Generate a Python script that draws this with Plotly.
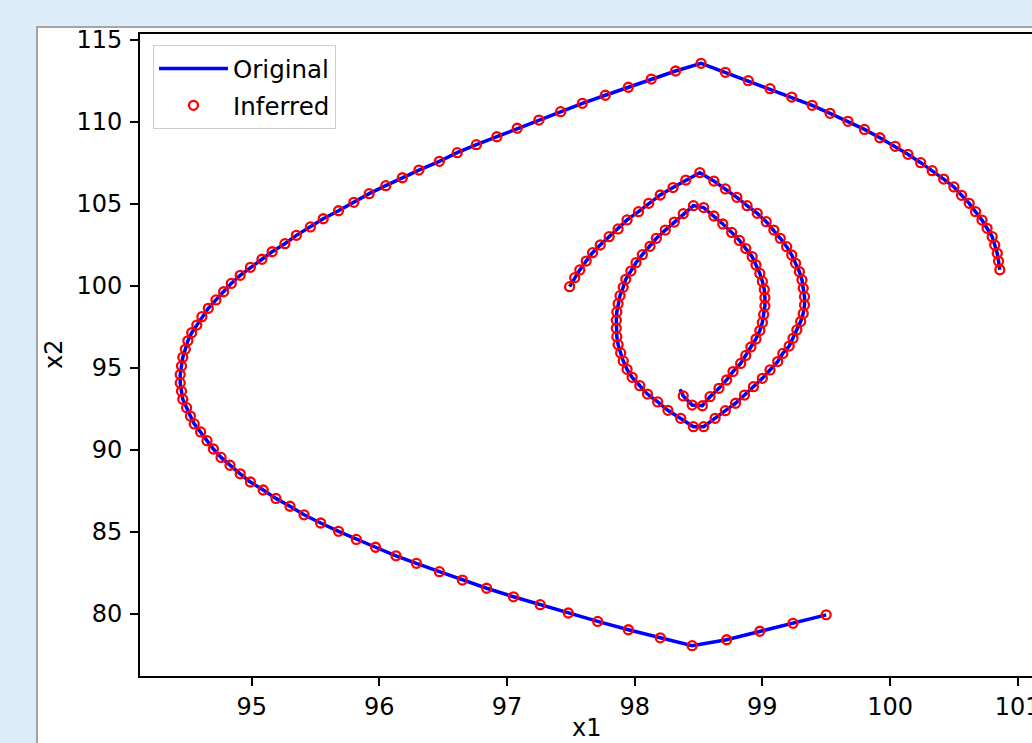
import plotly.graph_objects as go

# ---------------- data ----------------
outer_x1 = [99.50, 99.24, 98.98, 98.72, 98.45, 98.20, 97.95, 97.71, 97.48, 97.26,
            97.05, 96.84, 96.65, 96.47, 96.29, 96.13, 95.97, 95.82, 95.68, 95.54,
            95.41, 95.30, 95.19, 95.09, 94.99, 94.91, 94.83, 94.76, 94.70, 94.65,
            94.60, 94.55, 94.52, 94.49, 94.46, 94.45, 94.44, 94.44, 94.45, 94.46,
            94.48, 94.50, 94.53, 94.57, 94.61, 94.66, 94.72, 94.78, 94.84, 94.91,
            94.99, 95.08, 95.16, 95.26, 95.35, 95.46, 95.56, 95.68, 95.80, 95.92,
            96.05, 96.18, 96.31, 96.47, 96.61, 96.76, 96.92, 97.08, 97.25, 97.42,
            97.59, 97.77, 97.95, 98.13, 98.32, 98.52, 98.71, 98.89, 99.06, 99.23,
            99.39, 99.53, 99.67, 99.80, 99.92, 100.04, 100.14, 100.24, 100.33, 100.42,
            100.50, 100.56, 100.62, 100.67, 100.72, 100.76, 100.80, 100.82, 100.84, 100.85,
            100.86]
outer_x2 = [79.95, 79.43, 78.95, 78.43, 78.07, 78.55, 79.04, 79.55, 80.06, 80.57,
            81.05, 81.57, 82.07, 82.58, 83.09, 83.55, 84.07, 84.55, 85.04, 85.55,
            86.05, 86.57, 87.05, 87.56, 88.05, 88.55, 89.07, 89.55, 90.06, 90.57,
            91.10, 91.59, 92.07, 92.58, 93.09, 93.58, 94.09, 94.60, 95.12, 95.65,
            96.14, 96.66, 97.15, 97.62, 98.13, 98.64, 99.15, 99.65, 100.16, 100.65,
            101.14, 101.63, 102.09, 102.58, 103.09, 103.60, 104.10, 104.59, 105.10, 105.63,
            106.12, 106.60, 107.07, 107.60, 108.13, 108.62, 109.10, 109.62, 110.12, 110.63,
            111.14, 111.63, 112.12, 112.62, 113.11, 113.58, 113.03, 112.52, 112.03, 111.52,
            111.02, 110.53, 110.04, 109.55, 109.04, 108.52, 108.03, 107.52, 107.03, 106.52,
            106.04, 105.53, 105.04, 104.53, 104.02, 103.52, 103.01, 102.50, 101.99, 101.51,
            100.99]

inner_x1 = [97.49, 97.53, 97.57, 97.62, 97.67, 97.73, 97.80, 97.87, 97.94, 98.03,
            98.11, 98.20, 98.30, 98.40, 98.51,
            98.62, 98.71, 98.80, 98.88, 98.96, 99.03, 99.09, 99.14, 99.19, 99.23,
            99.26, 99.29, 99.31, 99.32, 99.33, 99.33, 99.32, 99.30, 99.27, 99.24,
            99.21, 99.16, 99.12, 99.06, 99.00, 98.93, 98.86, 98.79, 98.71, 98.63,
            98.54,
            98.46, 98.36, 98.26, 98.18, 98.10, 98.04, 97.98, 97.94, 97.91, 97.89,
            97.87, 97.86, 97.856, 97.856, 97.86, 97.87, 97.885, 97.91, 97.93, 97.97,
            98.01, 98.06, 98.12, 98.17, 98.24, 98.31, 98.38, 98.46,
            98.54, 98.62, 98.69, 98.76, 98.82, 98.87, 98.92, 98.95, 98.98, 99.00,
            99.015, 99.02, 99.02, 99.01, 99.00, 98.98, 98.95, 98.91, 98.87, 98.83,
            98.77, 98.72, 98.66, 98.59, 98.53,
            98.45, 98.38, 98.355]
inner_x2 = [99.96, 100.51, 100.98, 101.52, 102.03, 102.50, 103.01, 103.48, 104.03, 104.53,
            105.04, 105.55, 106.00, 106.46, 106.91,
            106.40, 105.92, 105.41, 104.90, 104.43, 103.92, 103.41, 102.91, 102.40, 101.89,
            101.38, 100.87, 100.37, 99.86, 99.35, 98.84, 98.33, 97.83, 97.32, 96.81,
            96.34, 95.89, 95.39, 94.88, 94.37, 93.86, 93.35, 92.85, 92.40, 91.93,
            91.42,
            91.42, 91.93, 92.42, 92.93, 93.41, 93.92, 94.43, 94.92, 95.43, 95.92,
            96.42, 96.91, 97.42, 97.91, 98.42, 98.92, 99.41, 99.92, 100.41, 100.91,
            101.42, 101.91, 102.42, 102.91, 103.41, 103.90, 104.41, 104.90,
            104.78, 104.27, 103.78, 103.27, 102.78, 102.28, 101.79, 101.28, 100.77, 100.28,
            99.78, 99.29, 98.78, 98.27, 97.78, 97.28, 96.77, 96.28, 95.77, 95.28,
            94.78, 94.27, 93.76, 93.25, 92.70,
            92.74, 93.30, 93.70]

x_ticks = [95, 96, 97, 98, 99, 100, 101]
y_ticks = [80, 85, 90, 95, 100, 105, 110, 115]

# Inferred states cover every sample except the final one of the inner run
inf_inner_x1 = inner_x1[:-1]
inf_inner_x2 = inner_x2[:-1]

orig_x = outer_x1 + [None] + inner_x1
orig_y = outer_x2 + [None] + inner_x2
inf_x = outer_x1 + [None] + inf_inner_x1
inf_y = outer_x2 + [None] + inf_inner_x2

# ---------------- figure ----------------
W, H = 1032, 743
L, R, T, B = 140, 0, 34, 67
pw, ph = W - L - R, H - T - B

def px_to_paper_x(px):
    return (px - L) / pw

def px_to_paper_y(py):
    return (H - B - py) / ph

FONT = "DejaVu Sans"
TICK_SIZE = 24
LEG_SIZE = 24.5

fig = go.Figure()
fig.add_trace(go.Scatter(
    x=orig_x, y=orig_y, mode="lines", name="Original",
    line=dict(color="#0000ff", width=3.5), legendgroup="a",
))
fig.add_trace(go.Scatter(
    x=inf_x, y=inf_y, mode="markers", name="Inferred",
    marker=dict(symbol="circle-open", color="#ff0000", size=9,
                line=dict(color="#ff0000", width=2.3)),
    legendgroup="b",
))

fig.update_layout(
    template="none",
    width=W, height=H,
    margin=dict(l=L, r=R, t=T, b=B, pad=0),
    paper_bgcolor="#dcecf9",
    plot_bgcolor="rgba(0,0,0,0)",
    font=dict(family=FONT, size=TICK_SIZE, color="black"),
    showlegend=True,
    legend=dict(
        x=px_to_paper_x(153), y=px_to_paper_y(45), xanchor="left", yanchor="top",
        bgcolor="white", bordercolor="#cccccc", borderwidth=1,
        font=dict(family=FONT, size=LEG_SIZE, color="black"),
        tracegroupgap=2, itemwidth=69,
    ),
    shapes=[dict(
        type="rect", xref="paper", yref="paper", layer="below",
        x0=px_to_paper_x(37), x1=px_to_paper_x(1045),
        y0=px_to_paper_y(770), y1=px_to_paper_y(27),
        fillcolor="white", line=dict(color="#a4a4a4", width=2),
    )],
    annotations=[
        dict(text="x1", xref="paper", yref="paper",
             x=px_to_paper_x(586), y=px_to_paper_y(728),
             xanchor="center", yanchor="middle", showarrow=False,
             font=dict(family=FONT, size=TICK_SIZE, color="black")),
        dict(text="x2", xref="paper", yref="paper",
             x=px_to_paper_x(54), y=0.5, textangle=-90,
             xanchor="center", yanchor="middle", showarrow=False,
             font=dict(family=FONT, size=TICK_SIZE, color="black")),
    ],
)

fig.update_xaxes(
    range=[94.125, 101.112], tickvals=x_ticks, ticktext=[str(v) for v in x_ticks],
    showgrid=False, zeroline=False, showline=True, linecolor="black", linewidth=2,
    mirror=True, ticks="outside", ticklen=8, tickwidth=2, tickcolor="black",
    automargin=False, ticklabeloverflow="allow",
    tickfont=dict(family=FONT, size=TICK_SIZE, color="black"),
)
fig.update_yaxes(
    range=[76.22, 115.366], tickvals=y_ticks, ticktext=[str(v) for v in y_ticks],
    showgrid=False, zeroline=False, showline=True, linecolor="black", linewidth=2,
    mirror=False, ticks="outside", ticklen=8, tickwidth=2, tickcolor="black",
    automargin=False, ticklabelstandoff=3,
    tickfont=dict(family=FONT, size=TICK_SIZE, color="black"),
)

fig.write_html("out.html")
